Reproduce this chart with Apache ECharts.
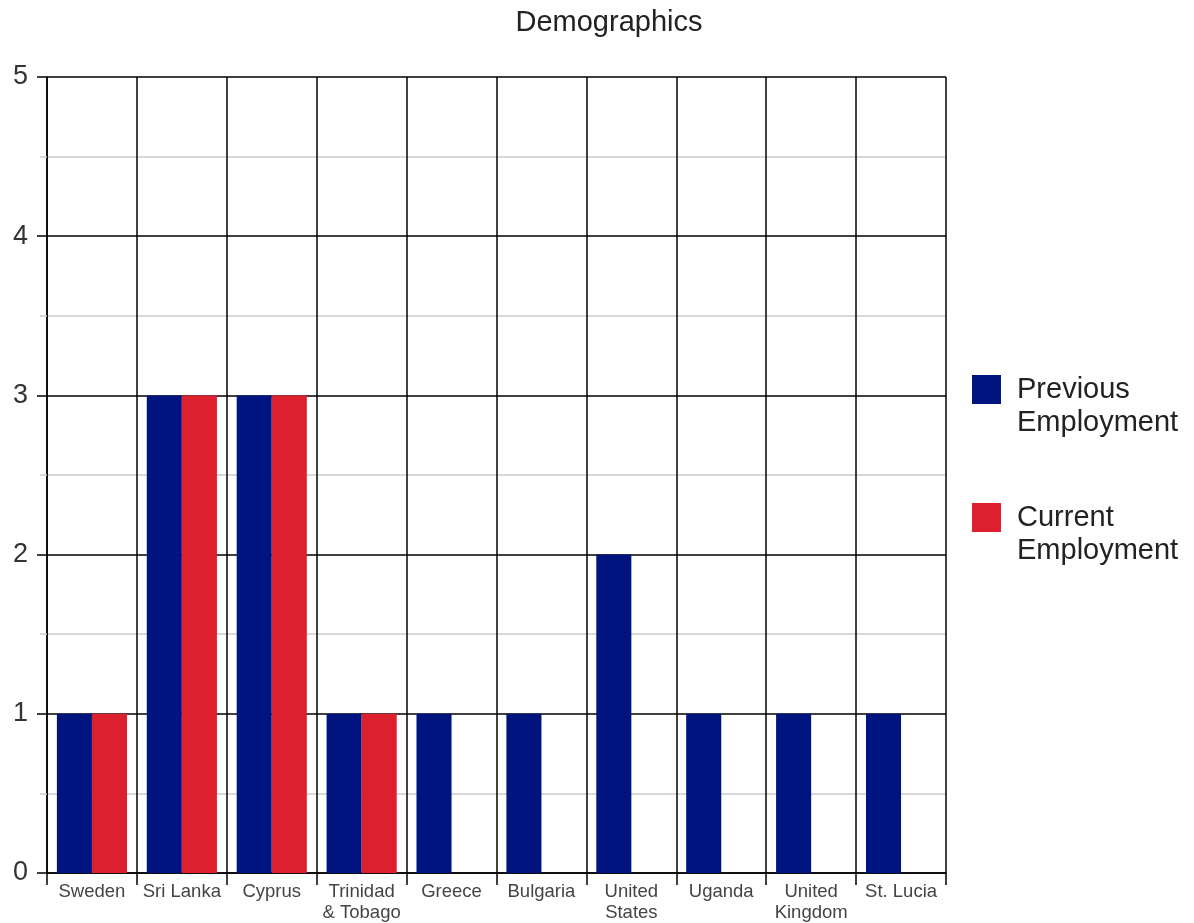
<!DOCTYPE html>
<html>
<head>
<meta charset="utf-8">
<script src="https://cdn.jsdelivr.net/npm/echarts@6/dist/echarts.min.js"></script>
<style>
html,body{margin:0;padding:0;background:#fff;}
#chart{width:1194px;height:923px;}
</style>
</head>
<body>
<div id="chart"></div>
<script>
var categories = ["Sweden", "Sri Lanka", "Cyprus", "Trinidad\n& Tobago", "Greece", "Bulgaria", "United\nStates", "Uganda", "United\nKingdom", "St. Lucia"];
var previousEmployment = [1, 3, 3, 1, 1, 1, 2, 1, 1, 1];
var currentEmployment = [1, 3, 3, 1, 0, 0, 0, 0, 0, 0];
var seriesNames = ["Previous\nEmployment", "Current\nEmployment"];
var yTicks = [0, 1, 2, 3, 4, 5];

var chart = echarts.init(document.getElementById('chart'));
var FONT = '"Liberation Sans", Arial, sans-serif';
chart.setOption({
  animation: false,
  backgroundColor: '#ffffff',
  title: {
    text: 'Demographics',
    left: 604,
    textAlign: 'center',
    top: 3,
    textStyle: {fontFamily: FONT, fontSize: 29, fontWeight: 'normal', color: '#222'}
  },
  legend: {
    orient: 'vertical',
    left: 972,
    top: 340,
    padding: 0,
    itemWidth: 29,
    itemHeight: 29,
    itemGap: 29,
    icon: 'rect',
    formatter: function (name) { return ' \n' + name; },
    textStyle: {fontFamily: FONT, fontSize: 29, color: '#222', lineHeight: 33, padding: [0, 0, 0, 11]},
    data: seriesNames
  },
  grid: {left: 47, right: 248, top: 77, bottom: 49, containLabel: false},
  xAxis: {
    type: 'category',
    data: categories,
    boundaryGap: true,
    axisLine: {show: true, lineStyle: {color: '#000', width: 1.5}},
    axisTick: {show: true, length: 12, lineStyle: {color: '#000', width: 1.5}},
    splitLine: {show: true, lineStyle: {color: '#000', width: 1.5}},
    axisLabel: {fontFamily: FONT, fontSize: 18.5, color: '#444', margin: 8, lineHeight: 21, interval: 0}
  },
  yAxis: {
    type: 'value',
    min: yTicks[0],
    max: yTicks[yTicks.length - 1],
    interval: 1,
    axisLine: {show: true, lineStyle: {color: '#000', width: 1.5}},
    axisTick: {show: true, length: 10, lineStyle: {color: '#000', width: 1.5}},
    minorTick: {show: true, splitNumber: 2, length: 7, lineStyle: {color: '#ccc', width: 1.5}},
    minorSplitLine: {show: true, lineStyle: {color: '#ccc', width: 1.5}},
    splitLine: {show: true, lineStyle: {color: '#000', width: 1.5}},
    axisLabel: {fontFamily: FONT, fontSize: 27, color: '#333', margin: 19}
  },
  series: [
    {
      name: seriesNames[0],
      type: 'bar',
      data: previousEmployment,
      barGap: '0%',
      barCategoryGap: '22%',
      itemStyle: {color: '#001480'}
    },
    {
      name: seriesNames[1],
      type: 'bar',
      data: currentEmployment,
      barGap: '0%',
      barCategoryGap: '22%',
      itemStyle: {color: '#dc202e'}
    }
  ]
});
</script>
</body>
</html>
